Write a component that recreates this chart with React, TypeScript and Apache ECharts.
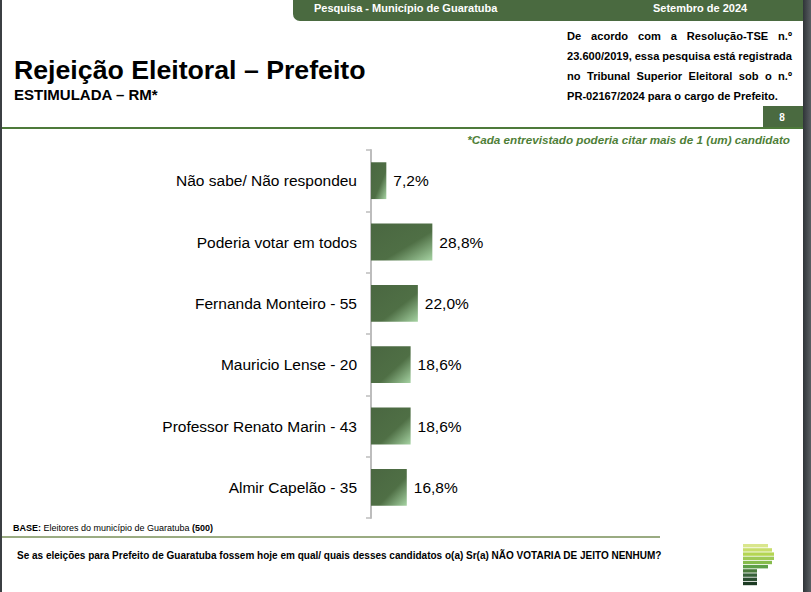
import React, { useEffect, useRef } from "react";
import * as echarts from "echarts";

const categories = [
  "Não sabe/ Não respondeu",
  "Poderia votar em todos",
  "Fernanda Monteiro - 55",
  "Mauricio Lense - 20",
  "Professor Renato Marin - 43",
  "Almir Capelão - 35",
];
const values = [7.2, 28.8, 22.0, 18.6, 18.6, 16.8];

const noteLines = [
  "De acordo com a Resolução-TSE n.º",
  "23.600/2019, essa pesquisa está registrada",
  "no Tribunal Superior Eleitoral sob o n.º",
  "PR-02167/2024 para o cargo de Prefeito.",
];

const FONT = "Liberation Sans, Arial, sans-serif";
const GREEN = "#4a6a40";

const logoStripes = [
  { w: 25, c: "#d9e68c" },
  { w: 29, c: "#c8de6b" },
  { w: 31, c: "#b4d552" },
  { w: 31, c: "#9fca56" },
  { w: 29, c: "#86bc4c" },
  { w: 25, c: "#5e9f48" },
  { w: 14, c: "#4a7a3c" },
  { w: 14, c: "#37613a" },
  { w: 14, c: "#2a4d30" },
  { w: 14, c: "#1b3a22" },
];

export default function App() {
  const ref = useRef<HTMLDivElement>(null);
  useEffect(() => {
    if (!ref.current) return;
    const chart = echarts.init(ref.current, null, { renderer: "svg" });
    const noteFont = `bold 11.1px ${FONT}`;
    const cv = document.createElement("canvas").getContext("2d")!;
    cv.font = noteFont;
    const x0 = 567;
    const x1 = 792;
    const noteEls: any[] = [];
    noteLines.forEach((line, li) => {
      const y = 36 + li * 20;
      const style = { fill: "#000", font: noteFont, textVerticalAlign: "middle" };
      if (li === noteLines.length - 1) {
        noteEls.push({ type: "text", x: x0, y, style: { ...style, text: line } });
        return;
      }
      const words = line.split(" ");
      const ws = words.map((w) => cv.measureText(w).width);
      const total = ws.reduce((a, b) => a + b, 0);
      const gap = (x1 - x0 - total) / (words.length - 1);
      let x = x0;
      words.forEach((w, i) => {
        noteEls.push({ type: "text", x, y, style: { ...style, text: w } });
        x += ws[i] + gap;
      });
    });
    const graphic: any[] = [
      { type: "rect", left: 0, top: 0, shape: { width: 2, height: 592 }, style: { fill: "#3b3f43" }, silent: true },
      { type: "rect", left: 803, top: 0, shape: { width: 8, height: 592 }, style: { fill: new echarts.graphic.LinearGradient(0, 0, 1, 0, [{ offset: 0, color: "#2f3438" }, { offset: 1, color: "#5a5f63" }]) }, silent: true },
      { type: "rect", left: 293, top: 0, shape: { width: 510, height: 21, r: [0, 0, 0, 7] }, style: { fill: GREEN } },
      { type: "text", left: 314, top: 2, style: { text: "Pesquisa - Município de Guaratuba", fill: "#fff", font: `bold 11px ${FONT}` } },
      { type: "text", left: 653, top: 2, style: { text: "Setembro de 2024", fill: "#fff", font: `bold 11px ${FONT}` } },
      { type: "text", left: 14, top: 56, style: { text: "Rejeição Eleitoral – Prefeito", fill: "#000", font: `bold 26.7px ${FONT}` } },
      { type: "text", left: 14, top: 87, style: { text: "ESTIMULADA – RM*", fill: "#000", font: `bold 15px ${FONT}` } },
      ...noteEls,
      { type: "rect", left: 763, top: 106, shape: { width: 40, height: 21 }, style: { fill: GREEN } },
      { type: "text", x: 782, y: 117, style: { text: "8", fill: "#fff", font: `bold 10px ${FONT}`, textAlign: "center", textVerticalAlign: "middle" } },
      { type: "rect", left: 2, top: 127, shape: { width: 801, height: 2 }, style: { fill: "#4d7a3a" } },
      { type: "text", x: 790, y: 139, style: { text: "*Cada entrevistado poderia citar mais de 1 (um) candidato", fill: "#4f7f38", font: `italic bold 11.7px ${FONT}`, textAlign: "right", textVerticalAlign: "middle" } },
      {
        type: "text",
        x: 13,
        y: 528,
        style: {
          text: "{b|BASE:} Eleitores do município de Guaratuba {b|(500)}",
          fill: "#000",
          font: `9px ${FONT}`,
          textVerticalAlign: "middle",
          rich: { b: { fontWeight: "bold", fontSize: 9, fontFamily: FONT, fill: "#000" } },
        },
      },
      { type: "rect", left: 2, top: 536, shape: { width: 658, height: 2 }, style: { fill: "#9aab82" } },
      { type: "text", x: 17, y: 555, style: { text: "Se as eleições para Prefeito de Guaratuba fossem hoje em qual/ quais desses candidatos o(a) Sr(a) NÃO VOTARIA DE JEITO NENHUM?", fill: "#000", font: `bold 10px ${FONT}`, textVerticalAlign: "middle" } },
      ...logoStripes.map((s, i) => ({ type: "rect", left: 743, top: 544 + i * 4.2, shape: { width: s.w, height: 3.4 }, style: { fill: s.c } })),
    ];

    chart.setOption({
      animation: false,
      backgroundColor: "#fff",
      graphic,
      grid: { left: 371, top: 150, width: 213, height: 368, containLabel: false },
      xAxis: { type: "value", min: 0, max: 100, show: false },
      yAxis: {
        type: "category",
        data: categories,
        inverse: true,
        axisLine: { show: true, lineStyle: { color: "#bdbdbd", width: 2 } },
        axisTick: { show: true, length: 5, lineStyle: { color: "#bdbdbd", width: 1.5 } },
        axisLabel: { color: "#000", fontSize: 15.5, fontFamily: FONT, margin: 14 },
      },
      series: [
        {
          type: "bar",
          data: values,
          barCategoryGap: "40%",
          itemStyle: {
            color: new echarts.graphic.LinearGradient(0, 0, 1, 1, [
              { offset: 0, color: "#4a6741" },
              { offset: 0.6, color: "#4f6f45" },
              { offset: 1, color: "#a6d3a3" },
            ]),
          },
          label: {
            show: true,
            position: "right",
            distance: 7,
            color: "#000",
            fontSize: 15.5,
            fontFamily: FONT,
            formatter: (p: any) => p.value.toFixed(1).replace(".", ",") + "%",
          },
        },
      ],
    });
    return () => chart.dispose();
  }, []);
  return <div ref={ref} style={{ position: "absolute", left: 0, top: 0, width: 811, height: 592 }} />;
}
